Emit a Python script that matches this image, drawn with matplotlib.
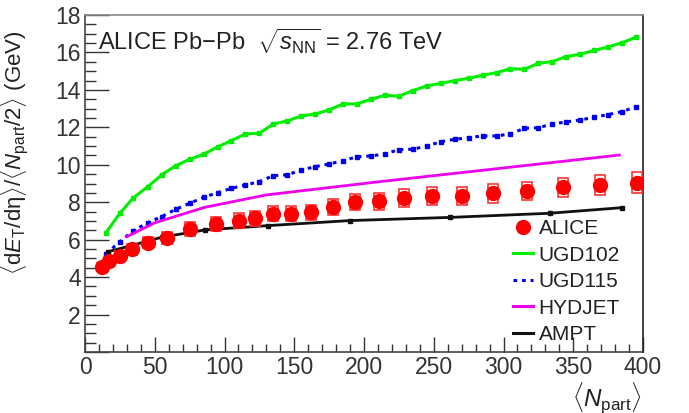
import matplotlib
matplotlib.use("Agg")
import matplotlib.pyplot as plt
from matplotlib.patches import Rectangle
from matplotlib.ticker import MultipleLocator

plt.rcParams['font.family'] = ['Liberation Sans', 'DejaVu Sans']
plt.rcParams['mathtext.fontset'] = 'custom'
plt.rcParams['mathtext.rm'] = 'Liberation Sans'
plt.rcParams['mathtext.it'] = 'Liberation Sans:italic'
plt.rcParams['mathtext.bf'] = 'Liberation Sans:bold'

# ALICE data
npart_alice = [12, 17.4, 25, 34, 45, 59, 75, 94, 110.6, 122, 134.5, 147.4, 161.8,
               177.5, 193.5, 211, 229, 249, 270, 292.7, 316.6, 342.4, 369, 396]
et_alice = [4.52, 4.86, 5.13, 5.48, 5.84, 6.07, 6.57, 6.85, 7.02, 7.14, 7.39, 7.39,
            7.46, 7.75, 8.01, 8.05, 8.23, 8.33, 8.33, 8.48, 8.60, 8.80, 8.92, 9.05]
sys_alice = [0.22, 0.24, 0.26, 0.28, 0.30, 0.32, 0.35, 0.37, 0.38, 0.39, 0.40, 0.40,
             0.41, 0.43, 0.45, 0.45, 0.47, 0.48, 0.48, 0.50, 0.50, 0.50, 0.53, 0.56]

# UGD models (same Npart grid)
npart_ugd = [15, 25, 34.6, 45, 55, 65, 75, 85, 95, 105, 115, 125, 135, 145, 155, 165,
             175, 185, 195, 205, 215, 225, 235, 245, 255, 265, 275, 285, 295, 305,
             315, 325, 335, 345, 355, 365, 375, 385, 395]
ugd102 = [6.37, 7.41, 8.23, 8.83, 9.46, 9.95, 10.29, 10.56, 10.95, 11.29, 11.65, 11.68,
          12.18, 12.34, 12.61, 12.71, 12.93, 13.25, 13.25, 13.50, 13.71, 13.66, 13.96,
          14.21, 14.35, 14.49, 14.62, 14.78, 14.92, 15.13, 15.10, 15.42, 15.51, 15.78,
          15.90, 16.11, 16.29, 16.52, 16.81]
ugd115 = [5.24, 5.89, 6.48, 6.91, 7.23, 7.62, 7.94, 8.26, 8.51, 8.74, 8.92, 9.10, 9.42,
          9.46, 9.72, 9.90, 10.04, 10.22, 10.43, 10.47, 10.58, 10.81, 10.83, 11.00,
          11.23, 11.36, 11.45, 11.54, 11.54, 11.65, 11.95, 11.98, 12.18, 12.29, 12.39,
          12.54, 12.68, 12.84, 13.10]

# HYDJET
npart_hydjet = [30, 50, 86, 130, 211.5, 300, 383]
hydjet = [6.16, 6.90, 7.73, 8.39, 9.10, 9.83, 10.52]

# AMPT
npart_ampt = [16.7, 32, 55, 86, 131, 190, 262, 333, 385]
ampt = [5.36, 5.66, 6.13, 6.52, 6.75, 7.02, 7.19, 7.41, 7.71]

fig = plt.figure(figsize=(6.89, 4.13), dpi=100)
ax = fig.add_axes([85 / 689, 1 - 352 / 413, 558 / 689, 337 / 413])

ax.plot(npart_ugd, ugd102, color='#00ee00', lw=2.2, marker='s', ms=3.5, zorder=3)
ax.plot(npart_ugd, ugd115, color='#0000ee', lw=2.2, ls=(0, (1.2, 1.6)), marker='s',
        ms=3.5, zorder=3)
ax.plot(npart_hydjet, hydjet, color='#ee00ee', lw=2.0, zorder=3)
ax.plot(npart_ampt, ampt, color='#111111', lw=2.0, marker='s', ms=3.5, zorder=4)

# systematic boxes
for n, v, s in zip(npart_alice, et_alice, sys_alice):
    ax.add_patch(Rectangle((n - 3.6, v - s), 7.2, 2 * s, fill=False,
                           edgecolor='#ff3333', lw=1.2, zorder=5))
ax.plot(npart_alice, et_alice, 'o', color='#ff0000', ms=10, mec='#ff0000', zorder=6)

ax.set_xlim(0, 400)
ax.set_ylim(0, 18)
ax.xaxis.set_major_locator(MultipleLocator(50))
ax.xaxis.set_minor_locator(MultipleLocator(10))
ax.yaxis.set_major_locator(MultipleLocator(2))
ax.yaxis.set_minor_locator(MultipleLocator(0.5))
ax.tick_params(axis='both', which='both', direction='in', top=False, right=False,
               labelsize=16.5, colors='#333333', width=1.0)
ax.tick_params(axis='y', which='major', length=17, pad=3)
ax.tick_params(axis='y', which='minor', length=8)
ax.tick_params(axis='x', which='major', length=11, pad=3)
ax.tick_params(axis='x', which='minor', length=6)
ax.set_yticks(range(0, 19, 2))
ax.set_yticklabels(['', '2', '4', '6', '8', '10', '12', '14', '16', '18'])
for sp in ax.spines.values():
    sp.set_color('#444444')
    sp.set_linewidth(1.2)
ax.spines['top'].set_color('#888888')
ax.spines['right'].set_color('#222222')

ax.set_ylabel('$\\langle$d$E_{\\rm T}$/d\u03b7$\\rangle$/$\\langle N_{\\rm part}$/2$\\rangle$ (GeV)',
              fontsize=16, color='#222222')
ax.yaxis.set_label_coords(-0.097, 0.59)
fig.text(607 / 689, 1 - 380 / 413, r'$\langle N_{\rm part}\rangle$', fontsize=17.5,
         color='#222222', ha='center', va='top')

ax.text(0.024, 0.965, r'ALICE Pb$-$Pb  $\sqrt{s_{\rm NN}}$ = 2.76 TeV', transform=ax.transAxes,
        fontsize=17, color='#222222', ha='left', va='top')

# legend
handles = [
    plt.Line2D([], [], ls='none', marker='o', color='#ff0000', ms=10),
    plt.Line2D([], [], color='#00ee00', lw=2.2),
    plt.Line2D([], [], color='#0000ee', lw=2.2, ls=(0, (1.2, 1.6))),
    plt.Line2D([], [], color='#ee00ee', lw=2.2),
    plt.Line2D([], [], color='#111111', lw=2.2),
]
labels = ['ALICE', 'UGD102', 'UGD115', 'HYDJET', 'AMPT']
leg = ax.legend(handles, labels, loc='lower right', bbox_to_anchor=(0.985, -0.02),
                frameon=False, fontsize=15, handlelength=1.0, handletextpad=0.25,
                labelspacing=0.36, borderaxespad=0.3)
for t in leg.get_texts():
    t.set_color('#222222')

fig.savefig('out.png', dpi=100)
